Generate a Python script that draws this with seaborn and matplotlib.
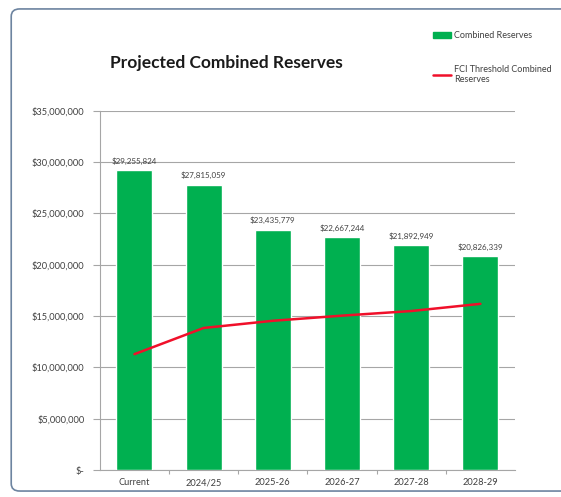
import numpy as np
import pandas as pd
import matplotlib.pyplot as plt
import seaborn as sns
from matplotlib.patches import FancyBboxPatch, Patch
from matplotlib.lines import Line2D
from matplotlib.ticker import FuncFormatter

# values
categories = ['Current', '2024/25', '2025-26', '2026-27', '2027-28', '2028-29']
combined_reserves = [29255824, 27815059, 23435779, 22667244, 21892949, 20826339]
fci_threshold = [11300000, 13850000, 14550000, 15050000, 15500000, 16200000]
y_ticks = [0, 5e6, 10e6, 15e6, 20e6, 25e6, 30e6, 35e6]

green = '#00B050'
red = '#F0102A'
grey_text = '#404040'

sns.set_theme(style='white')
plt.rcParams['font.family'] = ['Lato', 'DejaVu Sans']

df = pd.DataFrame({'Period': categories, 'Reserves': combined_reserves, 'Threshold': fci_threshold})

fig = plt.figure(figsize=(5.61, 4.97), dpi=100)
ax = fig.add_axes([0.178, 0.054, 0.74, 0.723])

sns.barplot(data=df, x='Period', y='Reserves', color=green, width=0.52,
            saturation=1, ax=ax, zorder=3)
sns.lineplot(x=np.arange(len(categories)), y=df['Threshold'], color=red,
             linewidth=1.8, ax=ax, zorder=4)

# data labels above bars
for i, v in enumerate(combined_reserves):
    ax.text(i, v + 500000, f'${v:,.0f}', ha='center', va='bottom',
            fontsize=5.8, color=grey_text, zorder=5)

ax.set_ylim(0, 35e6)
ax.set_xlim(-0.5, len(categories) - 0.5)
ax.set_yticks(y_ticks)
ax.yaxis.set_major_formatter(FuncFormatter(lambda v, p: '$-' if v == 0 else f'${v:,.0f}'))
ax.set_xlabel('')
ax.set_ylabel('')
ax.grid(axis='y', color='#a6a6a6', linewidth=0.8, zorder=0)
ax.set_axisbelow(True)

for side in ['top', 'right']:
    ax.spines[side].set_visible(False)
for side in ['left', 'bottom']:
    ax.spines[side].set_color('#a6a6a6')
    ax.spines[side].set_linewidth(0.8)

ax.tick_params(axis='y', which='major', direction='out', length=5, width=0.8,
               color='#a6a6a6', labelsize=6.7, labelcolor=grey_text, pad=6, left=True)
ax.tick_params(axis='x', which='major', length=0, labelsize=6.7, labelcolor=grey_text, pad=6)
ax.set_xticks(np.arange(len(categories) - 1) + 0.5, minor=True)
ax.tick_params(axis='x', which='minor', direction='out', length=3, width=0.8,
               color='#a6a6a6', bottom=True)

fig.text(0.404, 0.874, 'Projected Combined Reserves', ha='center', va='center',
         fontsize=12.5, fontweight='bold', color='#1a1a1a')

handles = [Patch(facecolor=green, edgecolor=green),
           Line2D([0], [0], color=red, linewidth=1.8)]
labels = ['Combined Reserves', 'FCI Threshold Combined\nReserves']
fig.legend(handles, labels, loc='upper left', bbox_to_anchor=(0.757, 0.953),
           frameon=False, fontsize=6.5, labelspacing=2.7, handlelength=2.0,
           handleheight=0.6, handletextpad=0.35, labelcolor=grey_text)

# rounded chart border
border = FancyBboxPatch((0.02, 0.012), 1.05, 0.97, boxstyle='round,pad=0,rounding_size=0.015',
                        transform=fig.transFigure, facecolor='none',
                        edgecolor='#6d84a0', linewidth=1.2)
fig.patches.append(border)

fig.savefig('out.png', dpi=100)
